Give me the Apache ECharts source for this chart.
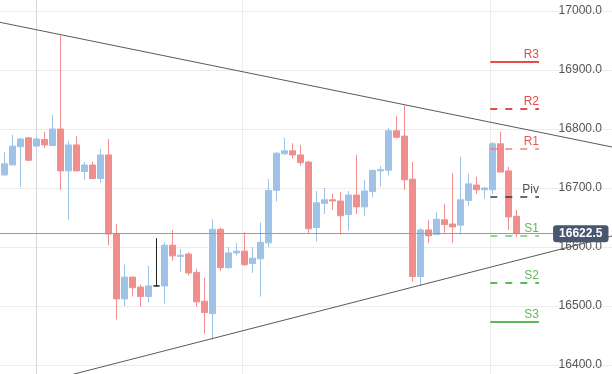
<!DOCTYPE html>
<html><head><meta charset="utf-8">
<script src="https://cdn.jsdelivr.net/npm/echarts@6/dist/echarts.min.js"></script>
<style>html,body{margin:0;padding:0;background:#fff}#c{width:612px;height:374px}</style>
</head><body><div id="c"></div>
<script>
// candle values (index = candle order)
const opens  = [16722,16739,16770,16785,16771,16782,16772,16800,16729,16773,16728,16739,16716,16756,16623,16512,16549,16532,16516,16534,16534,16603,16584,16588,16557,16508,16487,16630,16565,16590,16593,16572,16580,16607,16696,16758,16763,16756,16744,16633,16674,16680,16678,16655,16688,16668,16694,16729,16730,16797,16788,16715,16550,16629,16621,16646,16639,16637,16679,16705,16697,16697,16775,16729,16652];
const closes = [16741,16771,16783,16747,16783,16773,16800,16729,16773,16729,16739,16716,16756,16622,16512,16549,16531,16516,16534,16534,16603,16585,16586,16556,16507,16489,16630,16565,16590,16593,16570,16581,16608,16696,16759,16763,16756,16743,16631,16675,16680,16678,16653,16688,16668,16695,16730,16731,16797,16786,16714,16550,16629,16619,16647,16638,16634,16680,16707,16697,16700,16775,16727,16651,16622.5];
const lows   = [16722,16739,16702,16746,16770,16768,16771,16697,16646,16729,16714,16716,16709,16603,16477,16500,16516,16499,16506,16534,16504,16577,16558,16552,16499,16453,16443,16560,16563,16586,16568,16556,16516,16600,16677,16756,16750,16738,16623,16609,16656,16663,16621,16628,16656,16653,16684,16703,16721,16784,16697,16541,16534,16607,16621,16624,16607,16621,16670,16690,16682,16690,16727,16629,16617];
const highs  = [16761,16790,16785,16786,16786,16795,16824,16959,16780,16788,16744,16744,16766,16783,16639,16570,16549,16536,16568,16615,16608,16629,16597,16591,16563,16548,16647,16633,16600,16607,16625,16600,16642,16715,16761,16785,16776,16773,16746,16695,16700,16690,16693,16695,16756,16714,16730,16737,16802,16822,16841,16744,16632,16646,16659,16673,16725,16753,16724,16719,16702,16778,16795,16736,16663];

// y-axis ticks
const yTickMin = 16300, yTickMax = 17100, yTickStep = 100;
// x-range in candle-index units
const xRange = [-0.5375, 75.9625];

// trend lines (candle index, price)
const trendUpper = [[-0.5375, 16980.8], [75.9625, 16769.5]];
const trendLower = [[-0.5375, 16352.5], [75.9625, 16618.6]];

// session separators (candle index)
const separators = [4, 29.75, 60.75];

// pivot levels
const pivotNames  = ['R3','R2','R1','Piv','S1','S2','S3'];
const pivotValues = [16914, 16834, 16766, 16686, 16619, 16540, 16473];
const pivotSpan   = [60.75, 66.84];

// last price
const lastPrice = 16622.5;
const lastPriceLineEnd = 68.6;

const pivotStyles = {
  R3: {color:'#e84a4a', text:'#e84a4a', type:'solid', width:2},
  R2: {color:'#e84a4a', text:'#e84a4a', type:[7,8], width:2},
  R1: {color:'#ef7e7e', text:'#e85a5a', type:[7,8], width:1.5},
  Piv:{color:'#3a3a3a', text:'#555555', type:[7,8], width:1.5},
  S1: {color:'#94d494', text:'#5cb85c', type:[7,8], width:2},
  S2: {color:'#5cb85c', text:'#5cb85c', type:[7,8], width:2},
  S3: {color:'#5cb85c', text:'#5cb85c', type:'solid', width:2}
};

const UP = '#9fc3e6', DOWN = '#f08e8e', DOJI = '#222222';
const font = "'Liberation Sans', Arial, sans-serif";

const candleData = opens.map((o, i) => {
  const item = {value: [i, o, closes[i], lows[i], highs[i]]};
  if (o === closes[i]) item.itemStyle = {color: DOJI, color0: DOJI, borderColor: DOJI, borderColor0: DOJI};
  return item;
});

const pivotLines = pivotNames.map((n, k) => {
  const s = pivotStyles[n];
  return [
    {coord: [pivotSpan[0], pivotValues[k]], lineStyle: {color: s.color, type: s.type, width: s.width},
     label: {show: true, formatter: n, position: 'insideEndTop', distance: [0, 1], color: s.text, fontSize: 12, fontFamily: font}},
    {coord: [pivotSpan[1], pivotValues[k]]}
  ];
});

const sepLines = separators.map((x, k) => ({xAxis: x, lineStyle: {color: k === 0 ? '#d3d6dd' : '#ececec', type: 'solid', width: 1}, label: {show: false}}));

const chart = echarts.init(document.getElementById('c'));
chart.setOption({
  animation: false,
  backgroundColor: '#ffffff',
  grid: {left: 0, right: 0, top: -48, bottom: -50, containLabel: false, outerBoundsMode: 'none'},
  xAxis: {type: 'value', min: xRange[0], max: xRange[1], axisLine: {show: false}, axisTick: {show: false}, axisLabel: {show: false}, splitLine: {show: false}},
  yAxis: {type: 'value', position: 'right', min: yTickMin, max: yTickMax, interval: yTickStep, scale: true,
    axisLine: {show: false}, axisTick: {show: false},
    axisLabel: {inside: true, margin: 10, color: '#555555', fontSize: 12, fontFamily: font, padding: [3, 0, 0, 0], formatter: v => v.toFixed(1)},
    splitLine: {show: true, lineStyle: {color: '#ececec', width: 1}}},
  series: [
    {
      type: 'line', data: trendUpper, showSymbol: false, symbol: 'none', z: 1,
      lineStyle: {color: '#5a5a5a', width: 1}, silent: true,
      markLine: {symbol: 'none', silent: true, data: sepLines, z: 0}
    },
    {
      type: 'candlestick', data: candleData, barWidth: 6, z: 2,
      itemStyle: {color: UP, color0: DOWN, borderColor: UP, borderColor0: DOWN, borderWidth: 1}
    },
    {
      type: 'line', data: trendLower, showSymbol: false, symbol: 'none', z: 3,
      lineStyle: {color: '#5a5a5a', width: 1}, silent: true
    },
    {
      type: 'line', data: [], z: 4,
      markLine: {symbol: 'none', silent: true, data: [
        ...pivotLines,
        [
          {coord: [xRange[0], lastPrice], lineStyle: {color: '#8e9cb0', type: 'solid', width: 1},
           label: {show: true, position: 'end', distance: 0, formatter: lastPrice.toFixed(1), color: '#ffffff', fontWeight: 'bold', fontSize: 12, fontFamily: font,
                   backgroundColor: '#47576f', borderRadius: 3, padding: [3, 6, 2, 6]}},
          {coord: [lastPriceLineEnd, lastPrice]}
        ]
      ]}
    }
  ]
});
</script></body></html>
